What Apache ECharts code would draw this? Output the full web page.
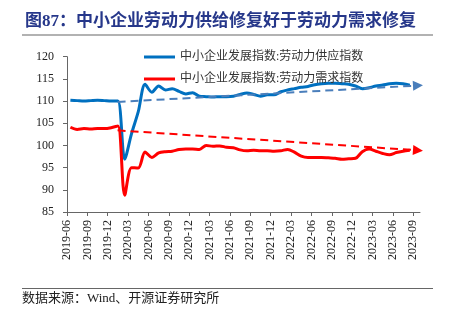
<!DOCTYPE html>
<html>
<head>
<meta charset="utf-8">
<script src="https://cdn.jsdelivr.net/npm/echarts@6/dist/echarts.min.js"></script>
<style>html,body{margin:0;padding:0;background:#fff;}#c{width:450px;height:323px;}</style>
</head>
<body>
<div id="c"></div>
<script>
var months = ["2019-06","2019-07","2019-08","2019-09","2019-10","2019-11","2019-12",
"2020-01","2020-02","2020-03","2020-04","2020-05","2020-06","2020-07","2020-08","2020-09","2020-10","2020-11","2020-12",
"2021-01","2021-02","2021-03","2021-04","2021-05","2021-06","2021-07","2021-08","2021-09","2021-10","2021-11","2021-12",
"2022-01","2022-02","2022-03","2022-04","2022-05","2022-06","2022-07","2022-08","2022-09","2022-10","2022-11","2022-12",
"2023-01","2023-02","2023-03","2023-04","2023-05","2023-06","2023-07","2023-08"];
var supply = [110.2,110.1,110.0,110.1,110.2,110.1,110.0,
110.0,96.9,102.6,107.6,113.8,112.0,113.4,112.5,112.8,112.2,111.6,111.9,
111.1,111.0,110.9,111.0,111.0,111.1,111.5,111.8,111.5,111.1,111.4,111.4,
112.1,112.5,112.8,113.1,113.3,113.7,113.9,114.0,114.0,113.9,113.8,113.4,
112.8,113.0,113.4,113.6,113.9,114.0,113.9,113.6];
var demand = [104.1,103.6,103.8,103.7,103.8,103.8,104.0,
104.4,88.8,95.0,94.9,98.5,97.3,98.3,98.6,98.7,99.1,99.2,99.2,
99.1,100.0,99.8,99.9,99.6,99.5,99.0,98.8,98.9,98.8,98.8,98.7,
98.8,99.1,98.5,97.6,97.3,97.3,97.3,97.2,97.1,96.9,97.0,97.1,
98.6,99.2,98.7,98.2,97.9,98.4,98.7,98.9];
var tickLabels = ["2019-06","2019-09","2019-12","2020-03","2020-06","2020-09","2020-12","2021-03","2021-06","2021-09","2021-12","2022-03","2022-06","2022-09","2022-12","2023-03","2023-06","2023-09"];
// trend arrows: [monthIndex, value] start and end
var supplyTrend = [[7.45,109.8],[51.7,113.5]];
var demandTrend = [[7.45,103.4],[51.7,98.9]];
var seriesNames = ["中小企业发展指数:劳动力供应指数","中小企业发展指数:劳动力需求指数"];

function toPoints(arr){ return arr.map(function(v,i){ return [i+0.5, v]; }); }
var tickVals = tickLabels.map(function(_,k){ return k*3; });
var serif = '"Liberation Serif","Noto Sans CJK SC"';

var chart = echarts.init(document.getElementById('c'), null, {renderer:'canvas'});
chart.setOption({
  animation:false,
  title:{text:'图87：中小企业劳动力供给修复好于劳动力需求修复', left:20, top:8,
    textStyle:{fontSize:17, fontWeight:'bold', color:'#26378a', fontFamily:serif}},
  legend:{orient:'vertical', left:144, top:50, padding:0, itemWidth:31, itemHeight:3, itemGap:8, icon:'rect',
    textStyle:{fontSize:12, lineHeight:14, color:'#333', fontFamily:serif},
    data:seriesNames},
  grid:{left:67, right:30, top:56.7, bottom:111, containLabel:false},
  xAxis:{type:'value', min:0, max:52,
    axisLine:{show:true, lineStyle:{color:'#666', width:1}},
    axisTick:{show:true, length:4, customValues:tickVals, lineStyle:{color:'#666'}},
    splitLine:{show:false},
    axisLabel:{customValues:tickVals, rotate:90, margin:8, fontSize:12, color:'#222', fontFamily:'"Liberation Serif"',
      formatter:function(v){ return tickLabels[Math.round(v/3)] || ''; }}},
  yAxis:{type:'value', min:85, max:120, interval:5,
    axisLine:{show:true, lineStyle:{color:'#666', width:1}},
    axisTick:{show:true, length:4, inside:false, lineStyle:{color:'#666'}},
    splitLine:{show:false},
    axisLabel:{fontSize:12, margin:13, color:'#222', fontFamily:'"Liberation Serif"'}},
  series:[
    {name:seriesNames[0], type:'line', data:toPoints(supply), symbol:'none', smooth:0.3,
      lineStyle:{color:'#0070C0', width:3}, itemStyle:{color:'#0070C0'}, z:3,
      markLine:{silent:true, symbol:['none','triangle'], symbolSize:[10,10], label:{show:false},
        lineStyle:{color:'#4A7EBB', width:2, type:[8,5]}, emphasis:{disabled:true},
        data:[[{coord:supplyTrend[0]},{coord:supplyTrend[1]}]]}},
    {name:seriesNames[1], type:'line', data:toPoints(demand), symbol:'none', smooth:0.3,
      lineStyle:{color:'#FF0000', width:3}, itemStyle:{color:'#FF0000'}, z:3,
      markLine:{silent:true, symbol:['none','triangle'], symbolSize:[10,10], label:{show:false},
        lineStyle:{color:'#FF0000', width:2, type:[8,5]}, emphasis:{disabled:true},
        data:[[{coord:demandTrend[0]},{coord:demandTrend[1]}]]}}
  ],
  graphic:[
    {type:'line', shape:{x1:22, y1:35, x2:433, y2:35}, style:{stroke:'#999', lineWidth:1.5}},
    {type:'line', shape:{x1:22, y1:288.5, x2:433, y2:288.5}, style:{stroke:'#666', lineWidth:1}},
    {type:'text', left:22, top:292, style:{text:'数据来源：Wind、开源证券研究所', fontSize:13, fill:'#222', fontFamily:serif}}
  ]
});
</script>
</body>
</html>
